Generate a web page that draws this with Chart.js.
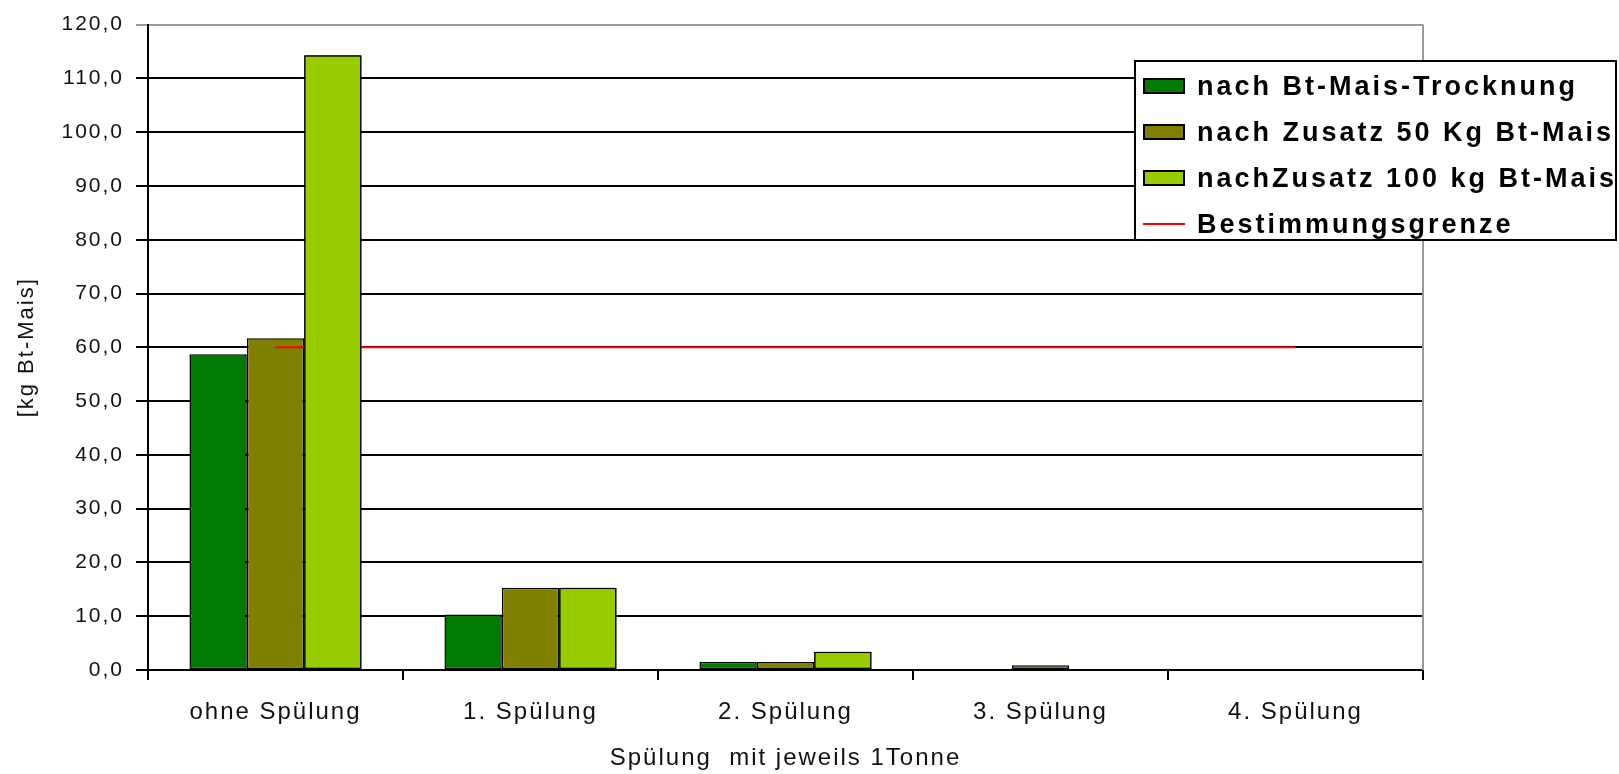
<!DOCTYPE html>
<html>
<head>
<meta charset="utf-8">
<script src="https://cdn.jsdelivr.net/npm/chart.js@4.4.1/dist/chart.umd.min.js"></script>
<style>
html,body{margin:0;padding:0;background:#fff;}
#wrap{position:relative;width:1619px;height:774px;overflow:hidden;}
#legend{position:absolute;left:1134px;top:60px;width:483px;height:181px;box-sizing:border-box;border:2px solid #000;background:#fff;padding-top:1px;}
.row{display:flex;align-items:center;height:46px;}
.sw{width:42px;height:16px;box-sizing:border-box;border:2px solid #000;margin-left:7px;flex:none;}
.ln{width:42px;height:2px;margin-left:7px;flex:none;}
.tx{margin-left:12px;font-family:"Liberation Sans",Arial,sans-serif;font-weight:bold;font-size:27px;letter-spacing:3px;color:#000;white-space:nowrap;}
</style>
</head>
<body>
<div id="wrap">
<canvas id="c" width="1619" height="774"></canvas>
<div id="legend"></div>
</div>
<script>
// ---- data ----
const categories = ['ohne Spülung', '1. Spülung', '2. Spülung', '3. Spülung', '4. Spülung'];
const seriesNames = ['nach Bt-Mais-Trocknung', 'nach Zusatz 50 Kg Bt-Mais', 'nachZusatz 100 kg Bt-Mais', 'Bestimmungsgrenze'];
const trocknung = [58.7, 10.3, 1.5, 0, 0];
const zusatz50 = [61.7, 15.3, 1.5, 0.9, 0];
const zusatz100 = [114.3, 15.3, 3.4, 0, 0];
const grenze = [60, 60, 60, 60, 60];
const yMin = 0, yMax = 120, yStep = 10;
const xTitle = 'Spülung  mit jeweils 1Tonne';
const yTitle = '[kg Bt-Mais]';
const seriesColors = ['#007A00', '#808000', '#99CC00', '#FF0000'];

const FONT = '"Liberation Sans", Arial, sans-serif';
const TXT = '#111';

const spacingPlugin = {
  id: 'spacing',
  beforeUpdate(c) { c.ctx.letterSpacing = '2px'; },
  beforeLayout(c) { c.ctx.letterSpacing = '2px'; },
  beforeDraw(c) { c.ctx.letterSpacing = '2px'; }
};

const framePlugin = {
  id: 'frame',
  beforeDatasetsDraw(c) {
    const a = c.chartArea, ctx = c.ctx;
    ctx.save();
    ctx.strokeStyle = '#9a9a9a';
    ctx.lineWidth = 2;
    ctx.beginPath();
    ctx.moveTo(a.right, a.top);
    ctx.lineTo(a.right, a.bottom);
    ctx.stroke();
    ctx.restore();
  },
  afterDatasetsDraw(c) {
    // light-green bars sit in front of the limit line, as in the original
    const meta = c.getDatasetMeta(2);
    if (meta && meta.controller) meta.controller.draw();
  }
};

const barCommon = {
  type: 'bar',
  borderColor: '#000',
  borderWidth: 1.5,
  borderSkipped: false,
  barPercentage: 1,
  categoryPercentage: 0.675,
  order: 0
};

new Chart(document.getElementById('c'), {
  type: 'bar',
  data: {
    labels: categories,
    datasets: [
      Object.assign({}, barCommon, { label: seriesNames[0], data: trocknung, backgroundColor: seriesColors[0] }),
      Object.assign({}, barCommon, { label: seriesNames[1], data: zusatz50, backgroundColor: seriesColors[1] }),
      Object.assign({}, barCommon, { label: seriesNames[2], data: zusatz100, backgroundColor: seriesColors[2] }),
      { type: 'line', label: seriesNames[3], data: grenze, borderColor: seriesColors[3], backgroundColor: seriesColors[3],
        borderWidth: 2, pointRadius: 0, fill: false, tension: 0, order: -1 }
    ]
  },
  options: {
    responsive: false,
    animation: false,
    devicePixelRatio: 1,
    layout: { padding: { left: 0, right: 196, top: 22, bottom: 0 } },
    plugins: { legend: { display: false }, tooltip: { enabled: false } },
    scales: {
      x: {
        grid: { offset: true, drawOnChartArea: false, drawTicks: true, tickLength: 10, color: '#000', lineWidth: 2 },
        border: { display: true, color: '#000', width: 2 },
        ticks: { color: TXT, font: { family: FONT, size: 24 }, padding: 18, maxRotation: 0, autoSkip: false },
        title: { display: true, text: xTitle, color: TXT, font: { family: FONT, size: 24 }, padding: { top: 0, bottom: 1 } },
        afterFit(s) { s.height = 104; }
      },
      y: {
        min: yMin, max: yMax,
        grid: {
          color: (ctx) => (ctx.tick && ctx.tick.value === yMax) ? '#9a9a9a' : '#000',
          lineWidth: 2, tickLength: 12, drawTicks: true
        },
        border: { display: true, color: '#000', width: 2 },
        ticks: {
          stepSize: yStep, color: TXT, font: { family: FONT, size: 21 }, padding: 12,
          callback: (v) => Number(v).toFixed(1).replace('.', ',')
        },
        title: { display: true, text: yTitle, color: TXT, font: { family: FONT, size: 22 }, padding: { top: 14, bottom: 0 } },
        afterFit(s) { s.width = 148; }
      }
    }
  },
  plugins: [spacingPlugin, framePlugin]
});

// HTML legend built from the series arrays
const leg = document.getElementById('legend');
seriesNames.forEach((name, i) => {
  const row = document.createElement('div');
  row.className = 'row';
  const sw = document.createElement('div');
  sw.className = i < 3 ? 'sw' : 'ln';
  sw.style.background = seriesColors[i];
  const tx = document.createElement('span');
  tx.className = 'tx';
  tx.textContent = name;
  row.appendChild(sw); row.appendChild(tx);
  leg.appendChild(row);
});
</script>
</body>
</html>
